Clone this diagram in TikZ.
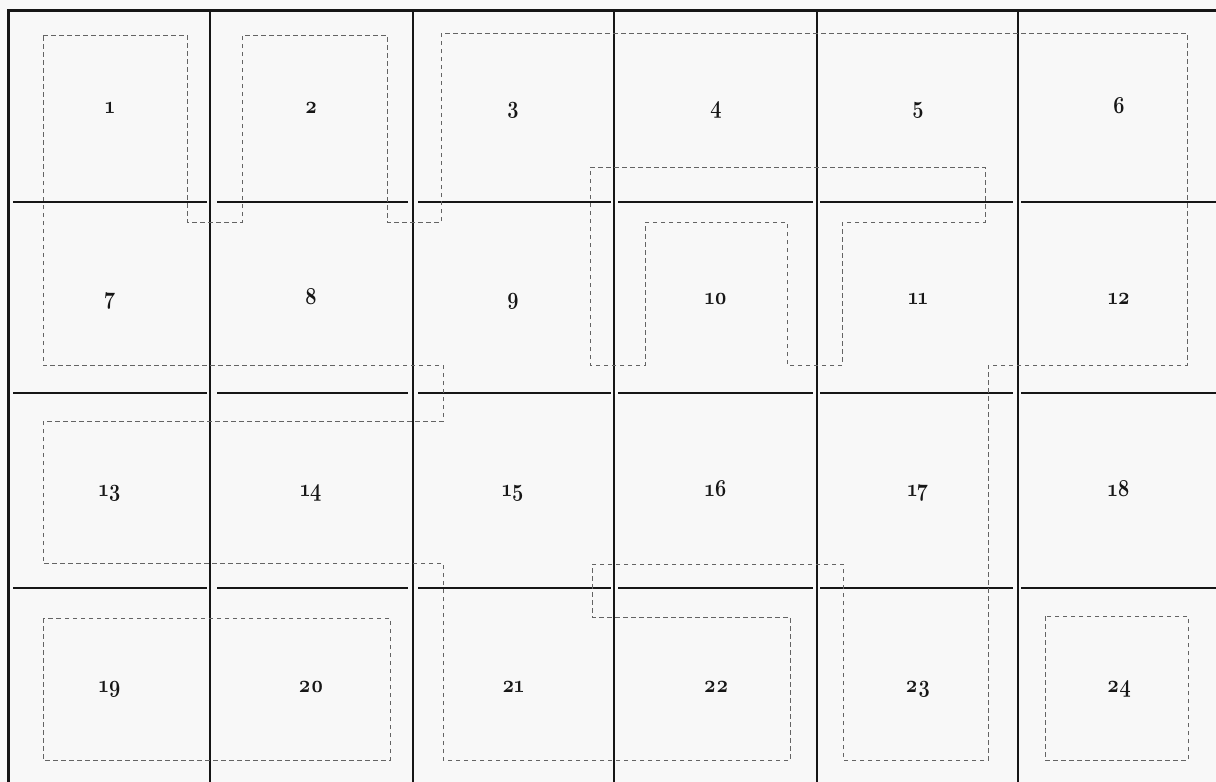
\documentclass[tikz,border=0pt]{standalone}
\usepackage{fontspec}
\usepackage{graphicx}
\usetikzlibrary{calc}
\newfontfamily\osfamily{Latin Modern Roman}[Numbers=OldStyle]
\definecolor{paper}{RGB}{248,248,248}
\definecolor{ink}{RGB}{22,22,22}
\definecolor{dashc}{RGB}{100,100,100}
\newcommand{\osfont}{\osfamily\bfseries\fontsize{20}{24}\selectfont}
\newcommand{\tallnum}[1]{\scalebox{1}[1.22]{#1}}
\tikzset{
  gridline/.style={draw=ink, line width=1.3pt},
  heavyline/.style={draw=ink, line width=3pt},
  outline/.style={draw=dashc, line width=0.95pt, dash pattern=on 4.5pt off 3.5pt},
  num/.style={font=\osfont, text=ink, inner sep=0pt, anchor=base}
}
\begin{document}
\begin{tikzpicture}[x=1pt,y=-1pt]
\fill[paper] (0,0) rectangle (1216,782);
\useasboundingbox (0,0) rectangle (1216,782);
% grid
\foreach \x in {210,413,614,817,1018} \draw[gridline] (\x,12) -- (\x,782);
\foreach \y in {202,393,588}
  \foreach \a/\b in {13/207,217/408,418/611,618/813,820/1013,1021/1216}
    \draw[gridline] (\a,\y) -- (\b,\y);
\draw[heavyline] (8,782) -- (8,10) -- (1216,10);
% dashed outlines
\draw[outline] (43,35) -- (187,35) -- (187,222) -- (242,222) -- (242,35) -- (387,35)
  -- (387,222) -- (441,222) -- (441,33) -- (1187,33) -- (1187,365) -- (988,365)
  -- (988,760) -- (843,760) -- (843,564) -- (592,564) -- (592,617) -- (790,617)
  -- (790,760) -- (443,760) -- (443,563) -- (43,563) -- (43,421) -- (443,421)
  -- (443,365) -- (43,365) -- cycle;
\draw[outline] (590,167) -- (985,167) -- (985,222) -- (842,222) -- (842,365)
  -- (787,365) -- (787,222) -- (645,222) -- (645,365) -- (590,365) -- cycle;
\draw[outline] (43,618) rectangle (390,760);
\draw[outline] (1045,616) rectangle (1188,760);
% numbers
\foreach \r/\yb in {0/113,1/304,2/496,3/692}
  \foreach \c/\xc in {1/110,2/311,3/513,4/716,5/918,6/1119}
  {
    \pgfmathtruncatemacro{\k}{\r*6+\c}
    \node[num] (n\k) at (\xc,\yb) {\tallnum{\k}};
  }
\end{tikzpicture}
\end{document}
